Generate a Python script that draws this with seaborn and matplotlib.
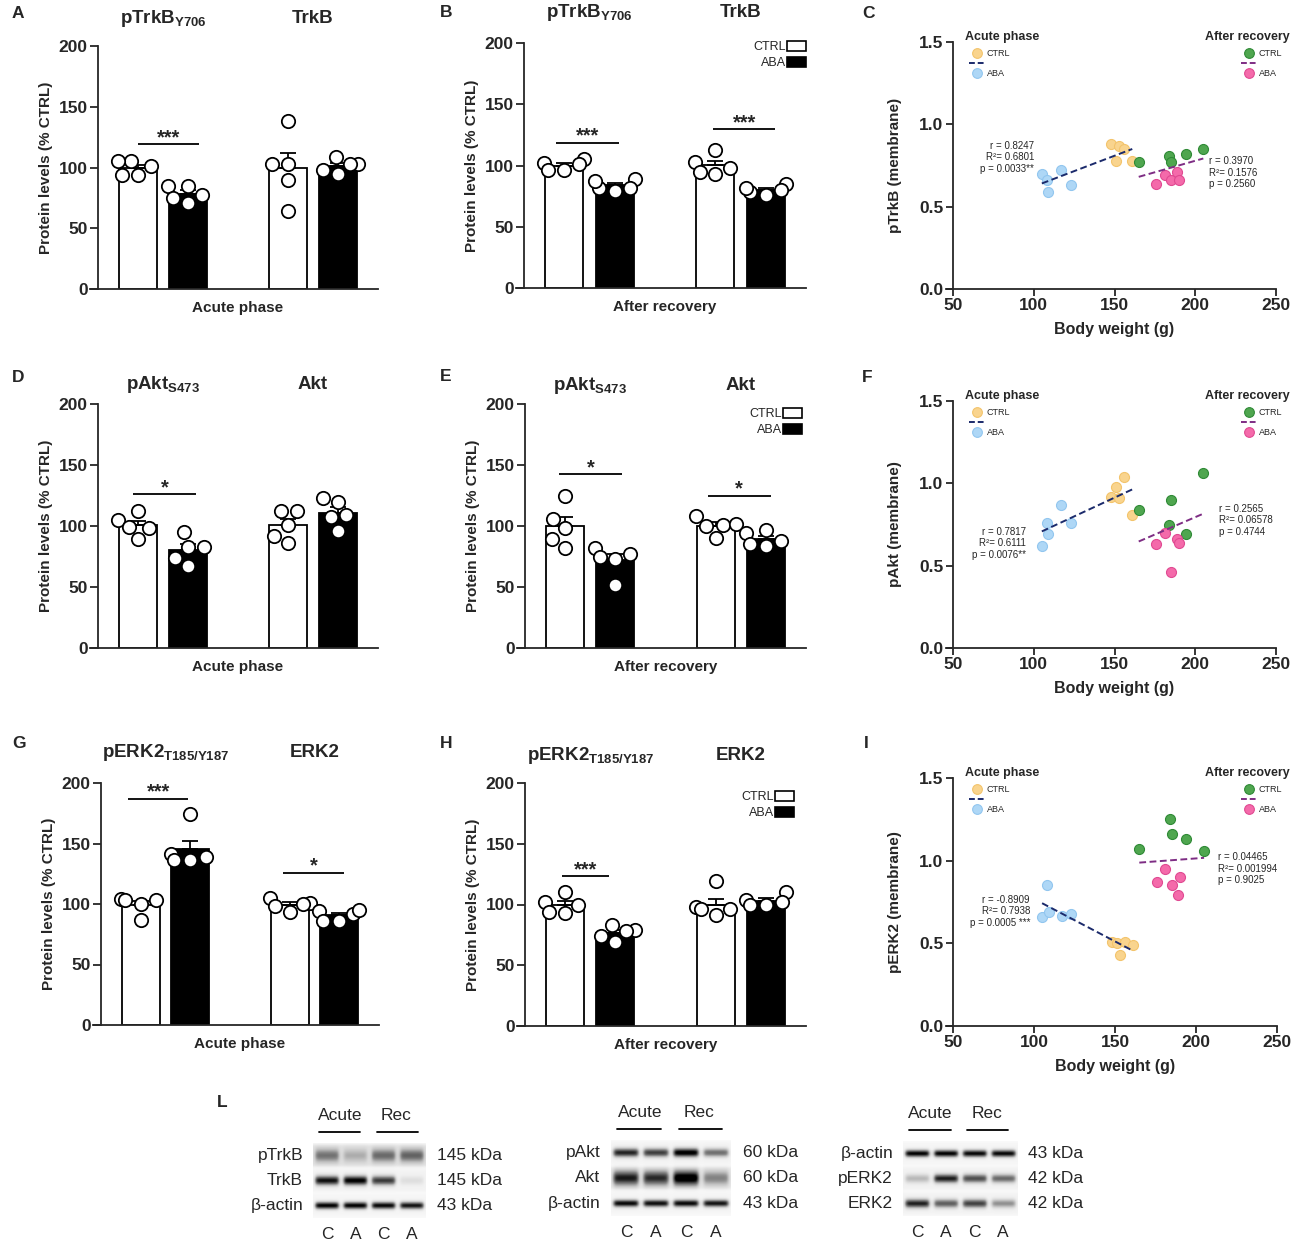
import numpy as np
import pandas as pd
import matplotlib
matplotlib.use("Agg")
import matplotlib.pyplot as plt
import matplotlib.transforms as mtransforms
from matplotlib.lines import Line2D
from matplotlib.patches import Patch
import seaborn as sns

# ======================= DATA =======================
groups = ["CTRL", "ABA"]

# --- A: acute phase, pTrkB / TrkB (% CTRL)
A_pTrkB_ctrl = [105, 94, 101, 105, 94]
A_pTrkB_aba = [85, 71, 77, 85, 75]
A_TrkB_ctrl = [138, 103, 103, 90, 64]
A_TrkB_aba = [103, 95, 103, 109, 98]
# --- B: after recovery, pTrkB / TrkB
B_pTrkB_ctrl = [105, 96, 102, 96, 101]
B_pTrkB_aba = [82, 89, 82, 87, 79]
B_TrkB_ctrl = [93, 113, 103, 95, 98]
B_TrkB_aba = [78, 85, 80, 82, 76]
# --- D: acute phase, pAkt / Akt
D_pAkt_ctrl = [105, 89, 99, 112, 98]
D_pAkt_aba = [83, 67, 95, 83, 74]
D_Akt_ctrl = [112, 101, 86, 112, 92]
D_Akt_aba = [123, 109, 96, 120, 107]
# --- E: after recovery, pAkt / Akt
E_pAkt_ctrl = [98, 82, 125, 106, 89]
E_pAkt_aba = [82, 75, 77, 73, 52]
E_Akt_ctrl = [108, 101, 90, 102, 100]
E_Akt_aba = [94, 84, 88, 97, 85]
# --- G: acute phase, pERK2 / ERK2
G_pERK2_ctrl = [104, 103, 103, 100, 87]
G_pERK2_aba = [136, 141, 136, 139, 174]
G_ERK2_ctrl = [105, 93, 101, 98, 100]
G_ERK2_aba = [94, 86, 92, 95, 86]
# --- H: after recovery, pERK2 / ERK2
H_pERK2_ctrl = [110, 93, 102, 94, 100]
H_pERK2_aba = [79, 69, 83, 74, 78]
H_ERK2_ctrl = [119, 91, 98, 96, 96]
H_ERK2_aba = [110, 100, 104, 100, 102]

# --- scatter panels: body weight (g)
bw_acute_ctrl = [148, 151, 153, 156, 161]
bw_acute_aba = [105, 108, 109, 117, 123]
bw_rec_ctrl = [165, 184, 185, 194, 205]
bw_rec_aba = [176, 181, 185, 189, 190]
# C: pTrkB (membrane)
C_acute_ctrl = [0.88, 0.78, 0.87, 0.85, 0.78]
C_acute_aba = [0.70, 0.66, 0.59, 0.72, 0.63]
C_rec_ctrl = [0.77, 0.81, 0.77, 0.82, 0.85]
C_rec_aba = [0.64, 0.69, 0.66, 0.71, 0.66]
# F: pAkt (membrane)
F_acute_ctrl = [0.92, 0.98, 0.91, 1.04, 0.81]
F_acute_aba = [0.62, 0.76, 0.69, 0.87, 0.76]
F_rec_ctrl = [0.84, 0.75, 0.90, 0.69, 1.06]
F_rec_aba = [0.63, 0.70, 0.46, 0.66, 0.64]
# I: pERK2 (membrane)
I_acute_ctrl = [0.51, 0.50, 0.43, 0.51, 0.49]
I_acute_aba = [0.66, 0.85, 0.69, 0.665, 0.68]
I_rec_ctrl = [1.07, 1.25, 1.16, 1.13, 1.06]
I_rec_aba = [0.87, 0.95, 0.85, 0.79, 0.90]

C_stats_acute = ["r = 0.8247", "R\u00b2= 0.6801", "p = 0.0033**"]
C_stats_rec = ["r = 0.3970", "R\u00b2= 0.1576", "p = 0.2560"]
F_stats_acute = ["r = 0.7817", "R\u00b2= 0.6111", "p = 0.0076**"]
F_stats_rec = ["r = 0.2565", "R\u00b2= 0.06578", "p = 0.4744"]
I_stats_acute = ["r = -0.8909", "R\u00b2= 0.7938", "p = 0.0005 ***"]
I_stats_rec = ["r = 0.04465", "R\u00b2= 0.001994", "p = 0.9025"]

# --- L: western blots (band darkness per lane C, A, C, A)
lanes = ["C", "A", "C", "A"]
blot1_rows = ["pTrkB", "TrkB", "\u03b2-actin"]
blot1_kda = ["145 kDa", "145 kDa", "43 kDa"]
blot1_bands = [[0.42, 0.22, 0.45, 0.48], [0.85, 0.92, 0.72, 0.12], [0.92, 0.92, 0.9, 0.86]]
blot2_rows = ["pAkt", "Akt", "\u03b2-actin"]
blot2_kda = ["60 kDa", "60 kDa", "43 kDa"]
blot2_bands = [[0.8, 0.72, 0.95, 0.55], [0.75, 0.7, 0.95, 0.4], [0.9, 0.88, 0.9, 0.86]]
blot3_rows = ["\u03b2-actin", "pERK2", "ERK2"]
blot3_kda = ["43 kDa", "42 kDa", "42 kDa"]
blot3_bands = [[0.92, 0.92, 0.9, 0.9], [0.28, 0.8, 0.65, 0.55], [0.8, 0.6, 0.7, 0.42]]

# ======================= STYLE =======================
sns.set_theme(style="ticks")
plt.rcParams["font.family"] = ["Liberation Sans", "DejaVu Sans"]
plt.rcParams["mathtext.fontset"] = "custom"
plt.rcParams["mathtext.rm"] = "Liberation Sans"
plt.rcParams["mathtext.bf"] = "Liberation Sans:bold"
plt.rcParams["mathtext.it"] = "Liberation Sans:italic"
plt.rcParams["mathtext.sf"] = "Liberation Sans"
plt.rcParams["axes.linewidth"] = 1.2

W, H = 1300, 1240
fig = plt.figure(figsize=(W / 100, H / 100), dpi=100)
fig.patch.set_facecolor("white")


def px_rect(l, t, r, b):
    return [l / W, 1 - b / H, (r - l) / W, (b - t) / H]


def fpx(x, y):
    return (x / W, 1 - y / H)


BAR_COLORS = {"CTRL": "white", "ABA": "black"}
TICKFS = 12.5


def bar_panel(geom, proteins, titles, values, sigs, xlabel, title_y, legend_at=None):
    spine, top, right, bottom = geom
    left = spine - 8
    ax = fig.add_axes(px_rect(left, top, right, bottom))
    order = [f"{proteins[0]} CTRL", f"{proteins[0]} ABA", "gap",
             f"{proteins[1]} CTRL", f"{proteins[1]} ABA"]
    rows = []
    for p in proteins:
        for g in groups:
            for v in values[(p, g)]:
                rows.append((f"{p} {g}", g, v))
    df = pd.DataFrame(rows, columns=["slot", "group", "value"])
    sns.barplot(data=df, x="slot", y="value", hue="group", order=order,
                hue_order=groups, palette=BAR_COLORS, width=0.76, errorbar=None,
                edgecolor="black", linewidth=1.3, legend=False, ax=ax)
    st = df.groupby("slot")["value"].agg(["mean", "sem"])
    for i, slot in enumerate(order):
        if slot in st.index:
            ax.errorbar(i, st.loc[slot, "mean"], yerr=[[0], [st.loc[slot, "sem"]]],
                        fmt="none", ecolor="black", elinewidth=1.3, capsize=6,
                        capthick=1.3, zorder=2.5)
    sns.swarmplot(data=df, x="slot", y="value", order=order, color="white",
                  edgecolor="black", linewidth=1.3, size=9.6, ax=ax, zorder=3,
                  warn_thresh=1.0)
    u = 5.6 / (right - spine)
    ax.set_xlim(-0.8 - 8 * u, 4.8)
    ax.set_ylim(0, 200)
    ax.spines["left"].set_position(("data", -0.8))
    ax.spines["top"].set_visible(False)
    ax.spines["right"].set_visible(False)
    ax.spines["left"].set_linewidth(1.3)
    ax.spines["bottom"].set_linewidth(1.3)
    ax.set_xticks([])
    ax.set_yticks([0, 50, 100, 150, 200])
    ax.tick_params(axis="y", length=5.5, width=1.3, labelsize=TICKFS, pad=2)
    for t in ax.get_yticklabels():
        t.set_fontweight("bold")
    wpx = right - left
    hpx = bottom - top
    ax.set_ylabel("Protein levels (% CTRL)", fontsize=11, fontweight="bold", va="center")
    ax.yaxis.set_label_coords((spine - 52 - left) / wpx, 0.5)
    ax.set_xlabel(xlabel, fontsize=11, fontweight="bold", va="top")
    ax.xaxis.set_label_coords(((spine + right) / 2 - left) / wpx, -12 / hpx)
    tr = mtransforms.blended_transform_factory(ax.transData, ax.transAxes)
    for xc, ttl in zip([0.5, 3.5], titles):
        ax.text(xc, title_y, ttl, transform=tr, ha="center", va="baseline",
                fontsize=13.5, fontweight="bold")
    for pair, y, lab, x0, x1 in sigs:
        base = 0 if pair == 0 else 3
        ax.plot([base + x0, base + x1], [y, y], color="black", lw=1.3,
                solid_capstyle="butt", clip_on=False, zorder=4)
        ax.text(base + (x0 + x1) / 2, y + 1.0, lab, ha="center", va="baseline",
                fontsize=14.5, fontweight="bold")
    if legend_at is not None:
        handles = [Patch(facecolor="white", edgecolor="black", linewidth=1.2),
                   Patch(facecolor="black", edgecolor="black", linewidth=1.2)]
        ax.legend(handles, groups, loc="upper right", bbox_to_anchor=fpx(*legend_at),
                  bbox_transform=fig.transFigure, frameon=False, markerfirst=False,
                  fontsize=9, handlelength=1.5, handleheight=0.85, handletextpad=0.1,
                  labelspacing=0.3, borderpad=0, borderaxespad=0)
    return ax


# ---- bar panels
bar_panel((98, 46, 378, 289), ["pTrkB", "TrkB"],
          [r"$\mathbf{pTrkB}_{\mathbf{Y706}}$", "TrkB"],
          {("pTrkB", "CTRL"): A_pTrkB_ctrl, ("pTrkB", "ABA"): A_pTrkB_aba,
           ("TrkB", "CTRL"): A_TrkB_ctrl, ("TrkB", "ABA"): A_TrkB_aba},
          [(0, 119, "***", 0.0, 1.22)], "Acute phase", 1.095)
bar_panel((524, 43, 806, 288), ["pTrkB", "TrkB"],
          [r"$\mathbf{pTrkB}_{\mathbf{Y706}}$", "TrkB"],
          {("pTrkB", "CTRL"): B_pTrkB_ctrl, ("pTrkB", "ABA"): B_pTrkB_aba,
           ("TrkB", "CTRL"): B_TrkB_ctrl, ("TrkB", "ABA"): B_TrkB_aba},
          [(0, 118.6, "***", -0.16, 1.08), (1, 129.5, "***", -0.05, 1.19)],
          "After recovery", 1.106, legend_at=(806, 41))
bar_panel((98, 404, 378, 648), ["pAkt", "Akt"],
          [r"$\mathbf{pAkt}_{\mathbf{S473}}$", "Akt"],
          {("pAkt", "CTRL"): D_pAkt_ctrl, ("pAkt", "ABA"): D_pAkt_aba,
           ("Akt", "CTRL"): D_Akt_ctrl, ("Akt", "ABA"): D_Akt_aba},
          [(0, 126, "*", -0.1, 1.16)], "Acute phase", 1.06)
bar_panel((525, 404, 806, 648), ["pAkt", "Akt"],
          [r"$\mathbf{pAkt}_{\mathbf{S473}}$", "Akt"],
          {("pAkt", "CTRL"): E_pAkt_ctrl, ("pAkt", "ABA"): E_pAkt_aba,
           ("Akt", "CTRL"): E_Akt_ctrl, ("Akt", "ABA"): E_Akt_aba},
          [(0, 142.5, "*", -0.12, 1.14), (1, 125, "*", -0.16, 1.1)],
          "After recovery", 1.056, legend_at=(802, 408))
bar_panel((101, 783, 379, 1025), ["pERK2", "ERK2"],
          [r"$\mathbf{pERK2}_{\mathbf{T185/Y187}}$", "ERK2"],
          {("pERK2", "CTRL"): G_pERK2_ctrl, ("pERK2", "ABA"): G_pERK2_aba,
           ("ERK2", "CTRL"): G_ERK2_ctrl, ("ERK2", "ABA"): G_ERK2_aba},
          [(0, 187, "***", -0.26, 0.96), (1, 126, "*", -0.14, 1.1)],
          "Acute phase", 1.106)
bar_panel((525, 783, 806, 1026), ["pERK2", "ERK2"],
          [r"$\mathbf{pERK2}_{\mathbf{T185/Y187}}$", "ERK2"],
          {("pERK2", "CTRL"): H_pERK2_ctrl, ("pERK2", "ABA"): H_pERK2_aba,
           ("ERK2", "CTRL"): H_ERK2_ctrl, ("ERK2", "ABA"): H_ERK2_aba},
          [(0, 123.3, "***", -0.06, 0.88)], "After recovery", 1.093,
          legend_at=(794, 791))

# ---- scatter panels
COL = {"acute_ctrl": ("#F9D48E", "#F3C46C"), "acute_aba": ("#AED7F6", "#92C6EF"),
       "rec_ctrl": ("#4FA64F", "#2F8A36"), "rec_aba": ("#F46AAA", "#E04A92")}
NAVY = "#1B2A6B"
PURPLE = "#7E2D84"


def scatter_panel(geom, ylabel, vals, st_acute, st_rec, st_acute_pos, st_rec_pos):
    spine, top, right, bottom = geom
    scale = (right - spine) / 200.0
    left = spine - 7
    ax = fig.add_axes(px_rect(left, top, right, bottom))
    bws = {"acute_ctrl": bw_acute_ctrl, "acute_aba": bw_acute_aba,
           "rec_ctrl": bw_rec_ctrl, "rec_aba": bw_rec_aba}
    for key in ["acute_ctrl", "acute_aba", "rec_ctrl", "rec_aba"]:
        fc, ec = COL[key]
        sns.scatterplot(x=bws[key], y=vals[key], color=fc, edgecolor=ec,
                        linewidth=0.8, s=52, ax=ax, zorder=3)
    sns.regplot(x=bw_acute_ctrl + bw_acute_aba, y=vals["acute_ctrl"] + vals["acute_aba"],
                scatter=False, ci=None, truncate=True, color=NAVY, ax=ax,
                line_kws=dict(linestyle=(0, (3.5, 1.8)), linewidth=1.4, zorder=4))
    sns.regplot(x=bw_rec_ctrl + bw_rec_aba, y=vals["rec_ctrl"] + vals["rec_aba"],
                scatter=False, ci=None, truncate=True, color=PURPLE, ax=ax,
                line_kws=dict(linestyle=(0, (3.5, 1.8)), linewidth=1.4, zorder=4))
    ax.set_xlim(50 - 7 / scale, 250)
    ax.set_ylim(0, 1.5)
    ax.spines["left"].set_position(("data", 50))
    ax.spines["top"].set_visible(False)
    ax.spines["right"].set_visible(False)
    ax.spines["left"].set_linewidth(1.3)
    ax.spines["bottom"].set_linewidth(1.3)
    ax.set_xticks([50, 100, 150, 200, 250])
    ax.set_yticks([0.0, 0.5, 1.0, 1.5])
    ax.set_yticklabels(["0.0", "0.5", "1.0", "1.5"])
    ax.tick_params(length=4.8, width=1.3, labelsize=TICKFS, pad=2)
    for t in ax.get_xticklabels() + ax.get_yticklabels():
        t.set_fontweight("bold")
    wpx = right - left
    hpx = bottom - top
    ax.set_ylabel(ylabel, fontsize=11, fontweight="bold", va="center")
    ax.yaxis.set_label_coords((spine - 58 - left) / wpx, 0.5)
    ax.set_xlabel("Body weight (g)", fontsize=11.5, fontweight="bold", va="top")
    ax.xaxis.set_label_coords(((spine + right) / 2 - left) / wpx, -33 / hpx)

    # legends: bold titles as text, entries as legends
    fig.text(*fpx(965, top - 5), "Acute phase", ha="left", va="center",
             fontsize=9, fontweight="bold")
    fig.text(*fpx(1290, top - 5), "After recovery", ha="right", va="center",
             fontsize=9, fontweight="bold")

    def dot(key):
        fc, ec = COL[key]
        return Line2D([], [], marker="o", ls="", ms=7.0, mfc=fc, mec=ec, mew=0.8)
    h1 = [dot("acute_ctrl"), Line2D([], [], color=NAVY, ls=(0, (3, 1.5)), lw=1.4), dot("acute_aba")]
    h2 = [dot("rec_ctrl"), Line2D([], [], color=PURPLE, ls=(0, (3, 1.5)), lw=1.4), dot("rec_aba")]
    kw = dict(bbox_transform=fig.transFigure, frameon=False, fontsize=6.5,
              handlelength=1.7, handletextpad=0.25, labelspacing=0.12,
              borderpad=0, borderaxespad=0, loc="upper left")
    leg1 = ax.legend(h1, ["CTRL", "", "ABA"], bbox_to_anchor=fpx(969, top + 7), **kw)
    ax.add_artist(leg1)
    ax.legend(h2, ["CTRL", "", "ABA"], bbox_to_anchor=fpx(1241, top + 7), **kw)
    for txt, y in zip(st_acute, st_acute_pos[1]):
        fig.text(*fpx(st_acute_pos[0], y), txt, ha="right", va="center", fontsize=7)
    for txt, y in zip(st_rec, st_rec_pos[1]):
        fig.text(*fpx(st_rec_pos[0], y), txt, ha="left", va="center", fontsize=7)
    return ax


scatter_panel((953, 42, 1276, 289), "pTrkB (membrane)",
              {"acute_ctrl": C_acute_ctrl, "acute_aba": C_acute_aba,
               "rec_ctrl": C_rec_ctrl, "rec_aba": C_rec_aba},
              C_stats_acute, C_stats_rec, (1034, [146, 157.5, 169]), (1209, [161, 172.5, 184]))
scatter_panel((953, 401, 1276, 648), "pAkt (membrane)",
              {"acute_ctrl": F_acute_ctrl, "acute_aba": F_acute_aba,
               "rec_ctrl": F_rec_ctrl, "rec_aba": F_rec_aba},
              F_stats_acute, F_stats_rec, (1026, [532, 543.5, 555]), (1219, [509, 520.5, 532]))
scatter_panel((953, 778, 1277, 1026), "pERK2 (membrane)",
              {"acute_ctrl": I_acute_ctrl, "acute_aba": I_acute_aba,
               "rec_ctrl": I_rec_ctrl, "rec_aba": I_rec_aba},
              I_stats_acute, I_stats_rec, (1030, [900, 911.5, 923]), (1218, [857, 868.5, 880]))


# ---- western blots
def blot_panel(geom, rows, kda, bands, sig, bg):
    l, t, r, b = geom
    ax = fig.add_axes(px_rect(l, t, r, b))
    ny, nx = 120, 200
    ys = (np.arange(ny) + 0.5) / ny * 3
    xs = (np.arange(nx) + 0.5) / nx * 4
    X, Y = np.meshgrid(xs, ys)
    img = np.full(X.shape, 0.03)
    for ri in range(3):
        rowband = 1 / (1 + np.exp((np.abs(Y - (ri + 0.5)) - 0.45) / 0.04))
        img += bg[ri] * rowband
        for li in range(4):
            gx = 1 / (1 + np.exp((np.abs(X - (li + 0.5)) - 0.41) / 0.035))
            gy = np.exp(-0.5 * ((Y - (ri + 0.5)) / sig[ri]) ** 2)
            img += bands[ri][li] * gx * gy
    ax.imshow(np.clip(img, 0, 1), cmap="Greys", vmin=0, vmax=1.0, extent=[0, 4, 3, 0],
              aspect="auto", interpolation="bilinear")
    ax.set_xlim(0, 4)
    ax.set_ylim(3, 0)
    ax.axis("off")
    fs = 12.5
    for ri in range(3):
        ax.text(-0.35, ri + 0.5, rows[ri], ha="right", va="center", fontsize=fs)
        ax.text(4.4, ri + 0.5, kda[ri], ha="left", va="center", fontsize=fs)
    for li in range(4):
        ax.text(li + 0.5, 3.65, lanes[li], ha="center", va="center", fontsize=fs)
    ax.text(0.97, -1.1, "Acute", ha="center", va="center", fontsize=fs)
    ax.text(2.95, -1.1, "Rec", ha="center", va="center", fontsize=fs)
    ax.plot([0.2, 1.68], [-0.45, -0.45], color="black", lw=1.3, clip_on=False)
    ax.plot([2.25, 3.7], [-0.45, -0.45], color="black", lw=1.3, clip_on=False)
    return ax


blot_panel((313, 1143, 426, 1218), blot1_rows, blot1_kda, blot1_bands,
           [0.18, 0.13, 0.1], [0.18, 0.07, 0.05])
blot_panel((611, 1140, 731, 1216), blot2_rows, blot2_kda, blot2_bands,
           [0.12, 0.2, 0.1], [0.06, 0.14, 0.05])
blot_panel((903, 1141, 1017, 1216), blot3_rows, blot3_kda, blot3_bands,
           [0.1, 0.12, 0.12], [0.05, 0.08, 0.07])

# ---- panel letters
letters = [("A", 12, 18), ("B", 440, 17), ("C", 862, 18), ("D", 12, 382), ("E", 440, 381),
           ("F", 862, 382), ("G", 12, 748), ("H", 440, 748), ("I", 864, 748), ("L", 217, 1107)]
for lab, x, y in letters:
    fig.text(*fpx(x, y), lab, ha="left", va="baseline", fontsize=12.5, fontweight="bold")

fig.savefig("out.png", dpi=100)
